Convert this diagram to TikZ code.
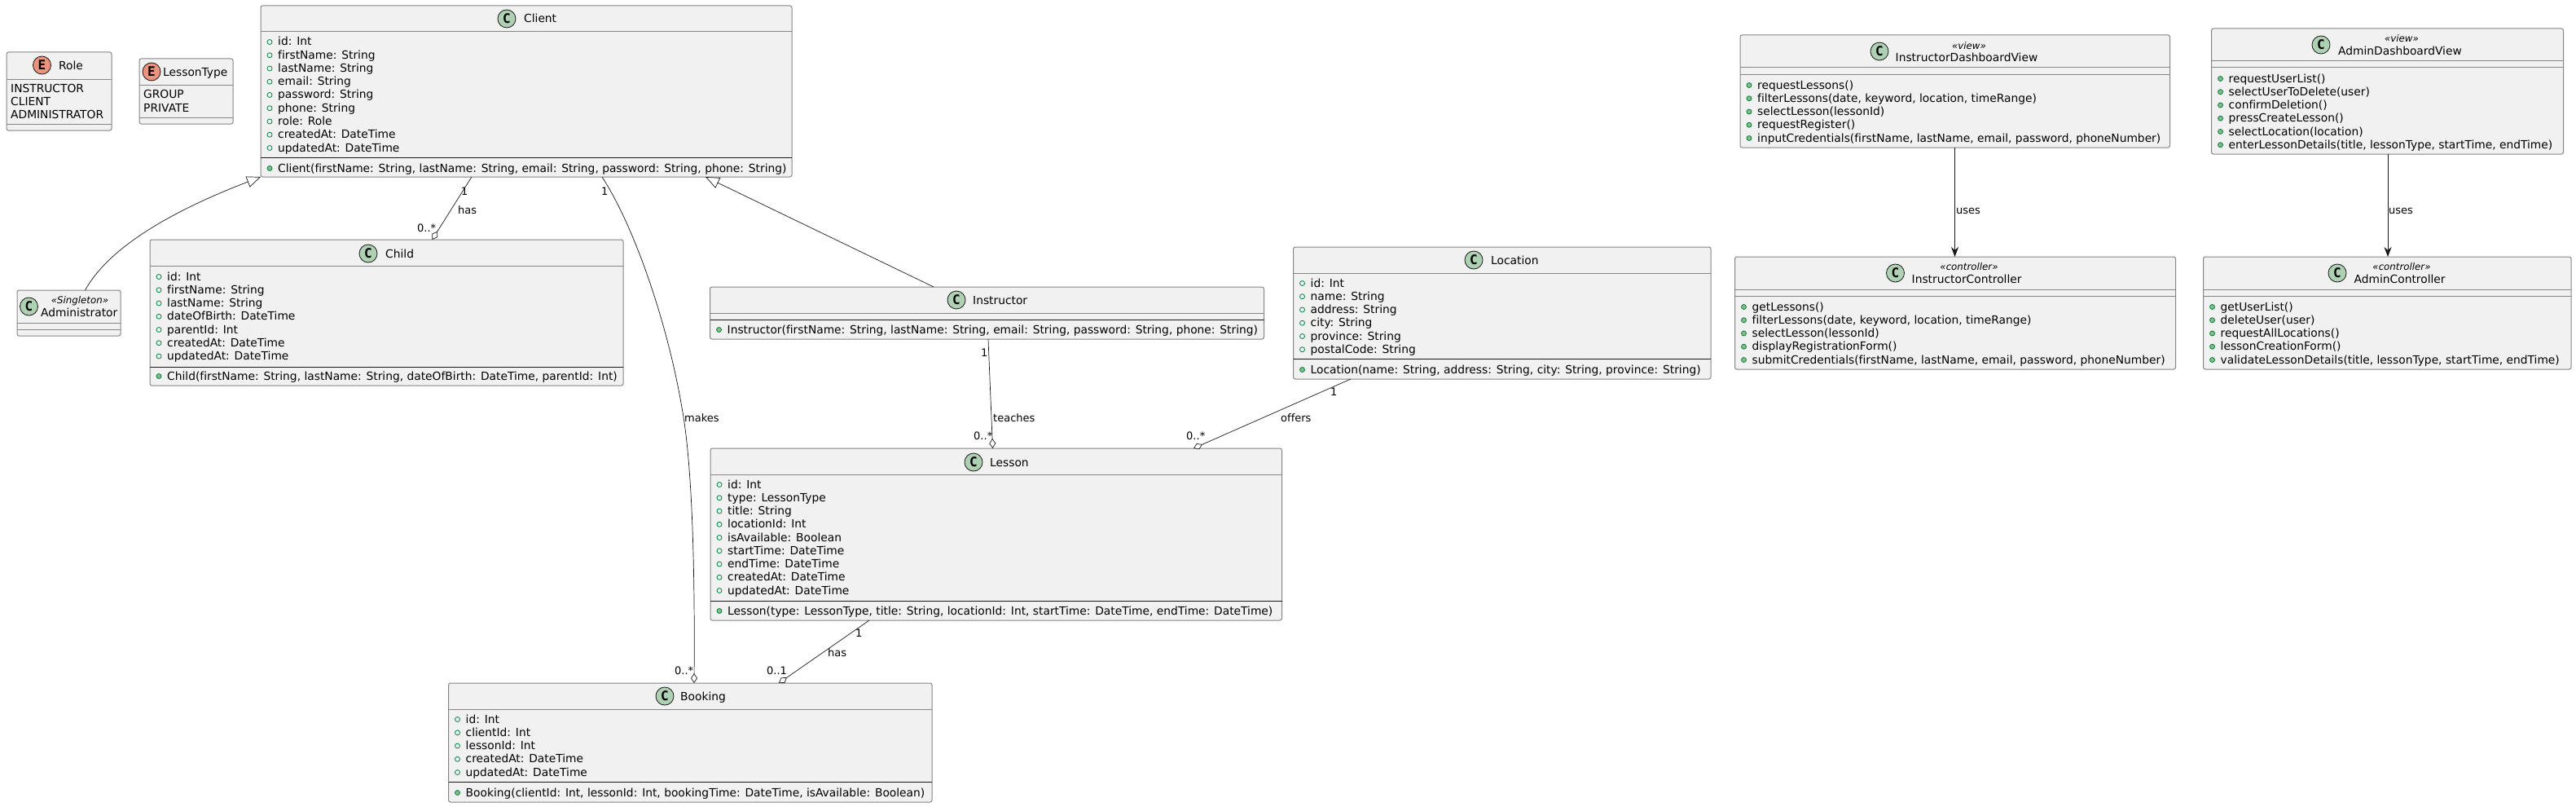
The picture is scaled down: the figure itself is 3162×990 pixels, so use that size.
\documentclass[tikz,border=0pt]{standalone}
\usepackage{fontspec}
\setmainfont[Ligatures=NoCommon]{DejaVu Sans}
\newfontfamily\spotfont{DejaVu Sans Mono}
\usepackage{xcolor}
\usetikzlibrary{arrows.meta}
\definecolor{boxfill}{HTML}{F1F1F1}
\definecolor{boxline}{HTML}{858585}
\definecolor{darkline}{HTML}{181818}
\definecolor{dotline}{HTML}{038048}
\definecolor{dotfill}{HTML}{84BE84}
\definecolor{classspot}{HTML}{ADD1B2}
\definecolor{enumspot}{HTML}{EB937F}
\tikzset{>=Stealth}
\tikzset{
	classbox/.style={draw=boxline, fill=boxfill, line width=1pt, rounded corners=2.5pt, inner sep=0pt, outer sep=0pt, anchor=north west},
	spotc/.style={circle, draw=darkline, line width=0.8pt, fill=classspot, minimum size=22pt, inner sep=0pt, font=\fontsize{16}{16}\spotfont\bfseries},
	spote/.style={spotc, fill=enumspot},
	title/.style={anchor=base west, inner sep=0pt, font=\fontsize{13.8}{16}\selectfont},
	stereo/.style={anchor=base, inner sep=0pt, font=\fontsize{11.8}{14}\selectfont\itshape},
	member/.style={anchor=base west, inner sep=0pt, font=\fontsize{13.8}{16}\selectfont},
	attrdot/.style={circle, draw=dotline, line width=0.8pt, minimum size=6pt, inner sep=0pt},
	methdot/.style={attrdot, fill=dotfill},
	greysep/.style={draw=boxline, line width=1pt},
	blacksep/.style={draw=darkline, line width=1pt},
	link/.style={draw=darkline, line width=0.7pt},
	extends/.style={link, -{Triangle[fill=white, length=17pt, width=14pt]}},
	aggr/.style={link, -{Diamond[fill=white, length=12pt, width=8pt]}},
	uses/.style={link, ->, >={Stealth[length=12pt, width=9pt, inset=4pt]}},
	lbl/.style={anchor=base west, inner sep=0pt, font=\fontsize{13}{15}\selectfont},
}
\newcommand{\classnode}[5]{\node[classbox, minimum width={(#4-#2)*1pt}, minimum height={(#5-#3)*1pt}] (#1) at (#2,#3) {};}
\newcommand{\sepline}[3]{\draw[#3] (#1.west |- 0,#2) -- (#1.east |- 0,#2);}
\newcommand{\rowlist}[4]{%
	\foreach \m [count=\i from 0] in {#4} {
		\pgfmathsetmacro{\ybase}{#3+\i*16.25}
		\node[#2dot, xshift=11pt, yshift=4.5pt] (#1#2dot\i) at (#1.west |- 0,\ybase) {};
		\node[member, xshift=21pt] (#1#2\i) at (#1.west |- 0,\ybase) {\m};
	}
}
\newcommand{\enumrows}[3]{%
	\foreach \m [count=\i from 0] in {#3} {
		\pgfmathsetmacro{\ybase}{#2+\i*16.25}
		\node[member, xshift=5pt] (#1row\i) at (#1.west |- 0,\ybase) {\m};
	}
}

\begin{document}
\begin{tikzpicture}[x=1pt, y=-1pt]
	\useasboundingbox (0,0) rectangle (3162,990);

	% Enums
	\classnode{Role}{8}{64}{137}{160}
	\node[spote] (RoleSpot) at (51.5,80) {E};
	\node[title] (RoleTitle) at (72,85) {Role};
	\sepline{Role}{97}{greysep}
	\sepline{Role}{152}{greysep}
	\enumrows{Role}{113}{INSTRUCTOR,CLIENT,ADMINISTRATOR}

	\classnode{LessonType}{171}{72}{286}{152}
	\node[spote] (LessonTypeSpot) at (186,88) {E};
	\node[title] (LessonTypeTitle) at (200,93) {LessonType};
	\sepline{LessonType}{104}{greysep}
	\sepline{LessonType}{144}{greysep}
	\enumrows{LessonType}{121}{GROUP,PRIVATE}

	% Client
	\classnode{Client}{320}{7}{972}{217}
	\node[spotc] (ClientSpot) at (622,23) {C};
	\node[title] (ClientTitle) at (643,28) {Client};
	\sepline{Client}{39}{greysep}
	\sepline{Client}{193}{blacksep}
	\rowlist{Client}{attr}{56}{{id: Int},{firstName: String},{lastName: String},{email: String},{password: String},{phone: String},{role: Role},{createdAt: DateTime},{updatedAt: DateTime}}
	\rowlist{Client}{meth}{211}{{Client(firstName: String, lastName: String, email: String, password: String, phone: String)}}

	% Administrator
	\classnode{Administrator}{21}{356}{148}{412}
	\node[spotc] (AdministratorSpot) at (35.5,376) {C};
	\node[stereo] (AdministratorStereo) at (98,372) {«Singleton»};
	\node[title] (AdministratorTitle) at (50,388) {Administrator};
	\sepline{Administrator}{396}{greysep}
	\sepline{Administrator}{404}{greysep}

	% Child
	\classnode{Child}{184}{294}{765}{473}
	\node[spotc] (ChildSpot) at (452,311) {C};
	\node[title] (ChildTitle) at (473,316) {Child};
	\sepline{Child}{326}{greysep}
	\sepline{Child}{450}{blacksep}
	\rowlist{Child}{attr}{344}{{id: Int},{firstName: String},{lastName: String},{dateOfBirth: DateTime},{parentId: Int},{createdAt: DateTime},{updatedAt: DateTime}}
	\rowlist{Child}{meth}{466}{{Child(firstName: String, lastName: String, dateOfBirth: DateTime, parentId: Int)}}

	% Instructor
	\classnode{Instructor}{871.5}{352}{1551.5}{416}
	\node[spotc] (InstructorSpot) at (1174,368) {C};
	\node[title] (InstructorTitle) at (1194,373) {Instructor};
	\sepline{Instructor}{384}{greysep}
	\sepline{Instructor}{392}{blacksep}
	\rowlist{Instructor}{meth}{409}{{Instructor(firstName: String, lastName: String, email: String, password: String, phone: String)}}

	% Location
	\classnode{Location}{1587.5}{303}{2100}{465}
	\node[spotc] (LocationSpot) at (1809,319) {C};
	\node[title] (LocationTitle) at (1830,324) {Location};
	\sepline{Location}{335}{greysep}
	\sepline{Location}{440}{blacksep}
	\rowlist{Location}{attr}{352}{{id: Int},{name: String},{address: String},{city: String},{province: String},{postalCode: String}}
	\rowlist{Location}{meth}{458}{{Location(name: String, address: String, city: String, province: String)}}

	% Lesson
	\classnode{Lesson}{872}{550}{1573.5}{761}
	\node[spotc] (LessonSpot) at (1195,567) {C};
	\node[title] (LessonTitle) at (1215,572) {Lesson};
	\sepline{Lesson}{582}{greysep}
	\sepline{Lesson}{737}{blacksep}
	\rowlist{Lesson}{attr}{599}{{id: Int},{type: LessonType},{title: String},{locationId: Int},{isAvailable: Boolean},{startTime: DateTime},{endTime: DateTime},{createdAt: DateTime},{updatedAt: DateTime}}
	\rowlist{Lesson}{meth}{754}{{Lesson(type: LessonType, title: String, locationId: Int, startTime: DateTime, endTime: DateTime)}}

	% Booking
	\classnode{Booking}{550.5}{838}{1144}{984}
	\node[spotc] (BookingSpot) at (816,854) {C};
	\node[title] (BookingTitle) at (835,859) {Booking};
	\sepline{Booking}{870}{greysep}
	\sepline{Booking}{959}{blacksep}
	\rowlist{Booking}{attr}{887}{{id: Int},{clientId: Int},{lessonId: Int},{createdAt: DateTime},{updatedAt: DateTime}}
	\rowlist{Booking}{meth}{977}{{Booking(clientId: Int, lessonId: Int, bookingTime: DateTime, isAvailable: Boolean)}}

	% Views
	\classnode{InstructorView}{2136}{43}{2663.5}{181}
	\node[spotc] (InstructorViewSpot) at (2307,63) {C};
	\node[stereo] (InstructorViewStereo) at (2417,60) {«view»};
	\node[title] (InstructorViewTitle) at (2326.5,76) {InstructorDashboardView};
	\sepline{InstructorView}{83}{greysep}
	\sepline{InstructorView}{91}{greysep}
	\rowlist{InstructorView}{meth}{109}{{requestLessons()},{filterLessons(date, keyword, location, timeRange)},{selectLesson(lessonId)},{requestRegister()},{inputCredentials(firstName, lastName, email, password, phoneNumber)}}

	\classnode{AdminView}{2714.5}{35}{3146.5}{189}
	\node[spotc] (AdminViewSpot) at (2849,55) {C};
	\node[stereo] (AdminViewStereo) at (2948,52) {«view»};
	\node[title] (AdminViewTitle) at (2870,67) {AdminDashboardView};
	\sepline{AdminView}{75}{greysep}
	\sepline{AdminView}{83}{greysep}
	\rowlist{AdminView}{meth}{101}{{requestUserList()},{selectUserToDelete(user)},{confirmDeletion()},{pressCreateLesson()},{selectLocation(location)},{enterLessonDetails(title, lessonType, startTime, endTime)}}

	% Controllers
	\classnode{InstructorCtrl}{2129.5}{315}{2670.5}{453}
	\node[spotc] (InstructorCtrlSpot) at (2326.5,335) {C};
	\node[stereo] (InstructorCtrlStereo) at (2417,331) {«controller»};
	\node[title] (InstructorCtrlTitle) at (2346.5,347) {InstructorController};
	\sepline{InstructorCtrl}{355}{greysep}
	\sepline{InstructorCtrl}{363}{greysep}
	\rowlist{InstructorCtrl}{meth}{381}{{getLessons()},{filterLessons(date, keyword, location, timeRange)},{selectLesson(lessonId)},{displayRegistrationForm()},{submitCredentials(firstName, lastName, email, password, phoneNumber)}}

	\classnode{AdminCtrl}{2704.5}{315}{3156}{453}
	\node[spotc] (AdminCtrlSpot) at (2869,335) {C};
	\node[stereo] (AdminCtrlStereo) at (2948,331) {«controller»};
	\node[title] (AdminCtrlTitle) at (2889.5,347) {AdminController};
	\sepline{AdminCtrl}{355}{greysep}
	\sepline{AdminCtrl}{363}{greysep}
	\rowlist{AdminCtrl}{meth}{381}{{getUserList()},{deleteUser(user)},{requestAllLocations()},{lessonCreationForm()},{validateLessonDetails(title, lessonType, startTime, endTime)}}

	%% Links
	\draw[extends] ([xshift=83.5pt]Administrator.north west) .. controls (130,310) and (195,265) .. (Client.south west);
	\draw[extends] ([xshift=274.5pt]Instructor.north west) -- ([xshift=-106pt]Client.south east);
	\draw[aggr] ([xshift=259pt]Client.south west) -- ([xshift=346.5pt]Child.north west);
	\draw[aggr] ([xshift=419pt]Client.south west) .. controls (780,280) and (820,400) .. (837,500) .. controls (850,570) and (853,700) .. ([xshift=301.5pt]Booking.north west);
	\draw[aggr] ([xshift=341.5pt]Instructor.south west) -- ([xshift=346.5pt]Lesson.north west);
	\draw[aggr] ([xshift=70.5pt]Location.south west) -- ([xshift=593pt]Lesson.north west);
	\draw[aggr] ([xshift=195pt]Lesson.south west) -- ([xshift=405.5pt]Booking.north west);
	\draw[uses] ([xshift=263.5pt]InstructorView.south west) -- ([xshift=270pt]InstructorCtrl.north west);
	\draw[uses] ([xshift=216.5pt]AdminView.south west) -- ([xshift=226.5pt]AdminCtrl.north west);

	%% Quote
	\node[lbl] (OneChild) at (566,239) {1};
	\node[lbl] (HasChild) at (562,262) {has};
	\node[lbl] (ManyChild) at (512,284) {0..*};
	\node[lbl] (OneBooking) at (738,239) {1};
	\node[lbl] (Makes) at (840,517) {makes};
	\node[lbl] (ManyBooking) at (828,827) {0..*};
	\node[lbl] (OneLesson) at (1204,437) {1};
	\node[lbl] (Teaches) at (1219,517) {teaches};
	\node[lbl] (ManyLesson) at (1195,539) {0..*};
	\node[lbl] (OneLocation) at (1633,485) {1};
	\node[lbl] (Offers) at (1572,517) {offers};
	\node[lbl] (ManyOffers) at (1456,539) {0..*};
	\node[lbl] (OneSlot) at (1050,781) {1};
	\node[lbl] (HasSlot) at (1016,805) {has};
	\node[lbl] (OptSlot) at (941,827) {0..1};
	\node[lbl] (UsesInstructor) at (2401,262) {uses};
	\node[lbl] (UsesAdmin) at (2932,262) {uses};
\end{tikzpicture}
\end{document}
